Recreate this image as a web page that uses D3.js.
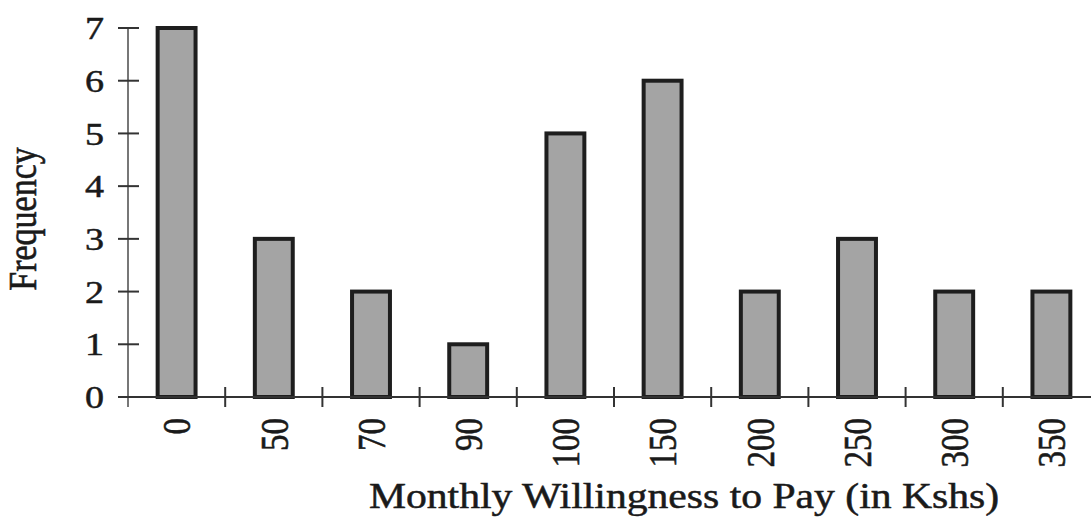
<!DOCTYPE html>
<html>
<head>
<meta charset="utf-8">
<script src="https://cdn.jsdelivr.net/npm/d3@7"></script>
<style>
  body { margin: 0; background: #fff; }
  svg text { font-family: "Liberation Serif", "Times New Roman", serif; fill: #1a1a1a; stroke: #1a1a1a; stroke-width: 0.5px; }
</style>
</head>
<body>
<svg id="chart" width="1091" height="517"></svg>
<script>
// data
const categories = ['0', '50', '70', '90', '100', '150', '200', '250', '300', '350'];
const frequency = [7, 3, 2, 1, 5, 6, 2, 3, 2, 2];
const yTicks = [0, 1, 2, 3, 4, 5, 6, 7];

const svg = d3.select('#chart');
const plotLeft = 128, plotBottom = 397, plotTop = 28;
const step = 97.2;
const stretch = 1.19; // the scan is a bit wider than tall

const x = d3.scaleBand()
  .domain(categories)
  .range([plotLeft, plotLeft + step * categories.length])
  .paddingInner(0.61)
  .paddingOuter(0.305);

const y = d3.scaleLinear().domain([0, 7]).range([plotBottom, plotTop]);

// bars
svg.selectAll('rect.bar')
  .data(categories)
  .join('rect')
  .attr('class', 'bar')
  .attr('x', d => x(d))
  .attr('width', x.bandwidth())
  .attr('y', (d, i) => y(frequency[i]))
  .attr('height', (d, i) => y(0) - y(frequency[i]))
  .attr('fill', '#a4a4a4')
  .attr('stroke', '#1e1e1e')
  .attr('stroke-width', 4);

// y axis
svg.append('line')
  .attr('x1', plotLeft).attr('x2', plotLeft)
  .attr('y1', y(7)).attr('y2', plotBottom + 10)
  .attr('stroke', '#555').attr('stroke-width', 1.6);

svg.selectAll('line.ytick')
  .data(yTicks)
  .join('line')
  .attr('class', 'ytick')
  .attr('x1', plotLeft - 10).attr('x2', plotLeft + 11)
  .attr('y1', d => y(d)).attr('y2', d => y(d))
  .attr('stroke', '#333').attr('stroke-width', 2);

svg.selectAll('text.ylab')
  .data(yTicks)
  .join('text')
  .attr('class', 'ylab')
  .attr('transform', d => `translate(104,${y(d)}) scale(${stretch},1)`)
  .attr('text-anchor', 'end')
  .attr('dy', '0.35em')
  .style('font-size', '32px')
  .text(d => d);

// x axis
svg.append('line')
  .attr('x1', plotLeft - 10).attr('x2', 1091)
  .attr('y1', plotBottom).attr('y2', plotBottom)
  .attr('stroke', '#333').attr('stroke-width', 2);

const bounds = d3.range(1, categories.length + 1).map(i => x.range()[0] + i * x.step());
svg.selectAll('line.xtick')
  .data(bounds)
  .join('line')
  .attr('class', 'xtick')
  .attr('x1', d => d).attr('x2', d => d)
  .attr('y1', plotBottom - 10).attr('y2', plotBottom + 10)
  .attr('stroke', '#333').attr('stroke-width', 2);

svg.selectAll('text.xlab')
  .data(categories)
  .join('text')
  .attr('class', 'xlab')
  .attr('transform', d => `translate(${x(d) + x.bandwidth() / 2},418) rotate(-90) scale(1,${stretch})`)
  .attr('text-anchor', 'end')
  .attr('dy', '0.35em')
  .style('font-size', '33px')
  .text(d => d);

// axis titles
svg.append('text')
  .attr('transform', `translate(684,508) scale(${stretch},1)`)
  .attr('text-anchor', 'middle')
  .style('font-size', '35px')
  .text('Monthly Willingness to Pay (in Kshs)');

svg.append('text')
  .attr('transform', `translate(36,219) rotate(-90) scale(1,${stretch})`)
  .attr('text-anchor', 'middle')
  .style('font-size', '34px')
  .text('Frequency');
</script>
</body>
</html>
